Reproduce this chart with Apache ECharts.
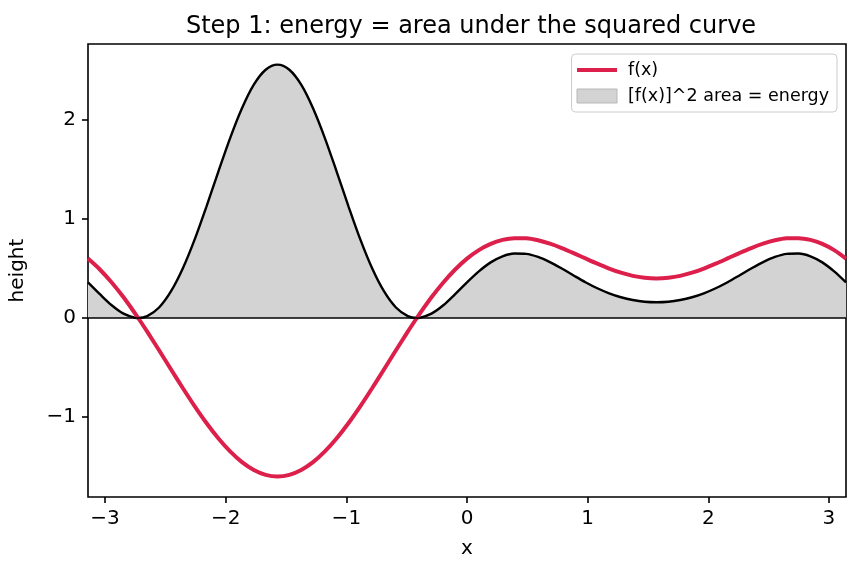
<!DOCTYPE html>
<html>
<head>
<meta charset="utf-8">
<script src="https://cdn.jsdelivr.net/npm/echarts@6/dist/echarts.min.js"></script>
<style>
  html, body { margin: 0; padding: 0; background: #fff; }
  #chart { width: 860px; height: 573px; }
</style>
</head>
<body>
<div id="chart"></div>
<script>
// sample positions (x), incl. the two zero crossings
const xs = [
  -3.1416, -3.0434, -2.9452, -2.8471, -2.7489, -2.7253, -2.6507, -2.5525, -2.4544, -2.3562,
  -2.2580, -2.1598, -2.0617, -1.9635, -1.8653, -1.7671, -1.6690, -1.5708, -1.4726, -1.3744,
  -1.2763, -1.1781, -1.0799, -0.9817, -0.8836, -0.7854, -0.6872, -0.5890, -0.4909, -0.4163,
  -0.3927, -0.2945, -0.1963, -0.0982, 0, 0.0982, 0.1963, 0.2945, 0.3927, 0.4909,
  0.5890, 0.6872, 0.7854, 0.8836, 0.9817, 1.0799, 1.1781, 1.2763, 1.3744, 1.4726,
  1.5708, 1.6690, 1.7671, 1.8653, 1.9635, 2.0617, 2.1598, 2.2580, 2.3562, 2.4544,
  2.5525, 2.6507, 2.7489, 2.8471, 2.9452, 3.0434, 3.1416
]
// f(x)
const fVals = [
  0.600, 0.490, 0.359, 0.209, 0.042, 0, -0.138, -0.326, -0.517, -0.707,
  -0.890, -1.061, -1.215, -1.348, -1.456, -1.535, -1.584, -1.600, -1.584, -1.535,
  -1.456, -1.348, -1.215, -1.061, -0.890, -0.707, -0.517, -0.326, -0.138, 0,
  0.042, 0.209, 0.359, 0.490, 0.600, 0.686, 0.749, 0.789, 0.807, 0.805,
  0.785, 0.751, 0.707, 0.656, 0.602, 0.549, 0.500, 0.458, 0.426, 0.407,
  0.400, 0.407, 0.426, 0.458, 0.500, 0.549, 0.602, 0.656, 0.707, 0.751,
  0.785, 0.805, 0.807, 0.789, 0.749, 0.686, 0.600
]
// [f(x)]^2
const sqVals = [
  0.360, 0.241, 0.129, 0.044, 0.002, 0, 0.019, 0.106, 0.268, 0.500,
  0.792, 1.126, 1.477, 1.818, 2.119, 2.357, 2.508, 2.560, 2.508, 2.357,
  2.119, 1.818, 1.477, 1.126, 0.792, 0.500, 0.268, 0.106, 0.019, 0,
  0.002, 0.044, 0.129, 0.241, 0.360, 0.471, 0.562, 0.623, 0.651, 0.648,
  0.617, 0.565, 0.500, 0.430, 0.362, 0.301, 0.250, 0.210, 0.182, 0.165,
  0.160, 0.165, 0.182, 0.210, 0.250, 0.301, 0.362, 0.430, 0.500, 0.565,
  0.617, 0.648, 0.651, 0.623, 0.562, 0.471, 0.360
]
const xTicks = [-3, -2, -1, 0, 1, 2, 3]
const yTicks = [-1, 0, 1, 2]

const font = 'DejaVu Sans'
const red = '#dc1f4b'
const minus = v => String(v).replace('-', '\u2212')

const chart = echarts.init(document.getElementById('chart'))
chart.setOption({
  animation: false,
  textStyle: { fontFamily: font },
  title: {
    text: 'Step 1: energy = area under the squared curve',
    left: 466,
    textAlign: 'center',
    top: 10,
    textStyle: { fontFamily: font, fontSize: 24, fontWeight: 'normal', color: '#000' }
  },
  legend: {
    orient: 'vertical',
    right: 23,
    top: 54,
    padding: [7, 8, 7, 5],
    itemGap: 8,
    itemWidth: 40,
    itemHeight: 14,
    backgroundColor: 'rgba(255,255,255,0.8)',
    borderColor: '#cccccc',
    borderWidth: 1,
    borderRadius: 4,
    textStyle: { fontFamily: font, fontSize: 17.5, color: '#000', lineHeight: 18, padding: [0, 0, 0, 6] },
    data: [
      { name: 'f(x)', icon: 'path://M0,0 L40,0 L40,4 L0,4 Z', itemStyle: { color: red } },
      { name: '[f(x)]^2 area = energy', icon: 'rect', itemStyle: { color: '#d3d3d3', borderColor: '#b8b8b8', borderWidth: 1 } }
    ]
  },
  grid: {
    left: 86, right: 14, top: 44, bottom: 76,
    show: true, borderColor: '#000', borderWidth: 1.6, backgroundColor: 'transparent'
  },
  xAxis: {
    type: 'value',
    min: -3.1416,
    max: 3.1416,
    name: 'x',
    nameLocation: 'middle',
    nameGap: 42,
    nameTextStyle: { fontFamily: font, fontSize: 20, color: '#000' },
    axisLine: { show: false, onZero: false },
    axisTick: { show: true, customValues: xTicks, length: 6, lineStyle: { color: '#000', width: 1.6 } },
    axisLabel: { customValues: xTicks, margin: 12, fontSize: 20, color: '#000', formatter: minus },
    splitLine: { show: false }
  },
  yAxis: {
    type: 'value',
    min: -1.808,
    max: 2.768,
    name: 'height',
    nameLocation: 'middle',
    nameGap: 60,
    nameTextStyle: { fontFamily: font, fontSize: 20, color: '#000' },
    axisLine: { show: false, onZero: false },
    axisTick: { show: true, customValues: yTicks, length: 6, lineStyle: { color: '#000', width: 1.6 } },
    axisLabel: { customValues: yTicks, margin: 12, fontSize: 20, color: '#000', formatter: minus },
    splitLine: { show: false }
  },
  series: [
    {
      name: '[f(x)]^2 area = energy',
      type: 'line',
      data: xs.map((x, i) => [x, sqVals[i]]),
      smooth: 0.3,
      symbol: 'none',
      z: 2,
      lineStyle: { color: '#000', width: 2.4 },
      itemStyle: { color: '#d3d3d3' },
      areaStyle: { color: '#d3d3d3', opacity: 1, origin: 0 },
      markLine: {
        silent: true,
        symbol: 'none',
        label: { show: false },
        lineStyle: { color: '#000', width: 1.6, type: 'solid' },
        data: [{ yAxis: 0 }]
      }
    },
    {
      name: 'f(x)',
      type: 'line',
      data: xs.map((x, i) => [x, fVals[i]]),
      smooth: 0.3,
      symbol: 'none',
      z: 4,
      lineStyle: { color: red, width: 4 },
      itemStyle: { color: red }
    }
  ]
})
</script>
</body>
</html>
